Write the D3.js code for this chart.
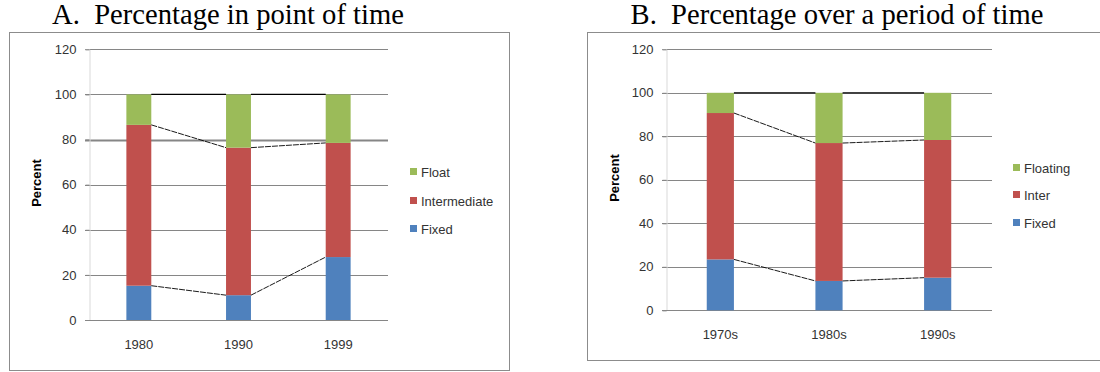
<!DOCTYPE html>
<html>
<head>
<meta charset="utf-8">
<script src="https://cdn.jsdelivr.net/npm/d3@7"></script>
<style>
  body { margin: 0; background: #fff; }
  .tick text { font-family: "Liberation Sans", Arial, sans-serif; font-size: 13px; fill: #333; }
  .legendText { font-family: "Liberation Sans", Arial, sans-serif; font-size: 13px; fill: #333; }
  .titleText { font-family: "Liberation Serif", "Times New Roman", serif; font-size: 28.6px; fill: #000; white-space: pre; }
</style>
</head>
<body>
<svg id="chart" width="1100" height="372"></svg>
<script>
// ...............................
// data

var yTicks = [0, 20, 40, 60, 80, 100, 120];

// panel A
var categoriesA = ["1980", "1990", "1999"];
var fixedA = [15.2, 11.0, 27.9];
var interA = [71.3, 65.4, 50.6];
var floatA = [13.5, 23.6, 21.5];
var legendA = ["Float", "Intermediate", "Fixed"];

// panel B
var categoriesB = ["1970s", "1980s", "1990s"];
var fixedB = [23.4, 13.5, 15.0];
var interB = [67.3, 63.4, 63.3];
var floatB = [9.3, 23.1, 21.7];
var legendB = ["Floating", "Inter", "Fixed"];

var colours = ["#4F81BD", "#C0504D", "#9BBB59"]; // fixed, inter, float
var colour_grid = "#868686";

var svg = d3.select("#chart");

// ...............................
// draw one panel
function fn_panel(cfg) {
  var g = svg.append("g");

  // outer frame
  g.append("rect")
    .attr("x", cfg.frame[0] + 0.5).attr("y", cfg.frame[1] + 0.5)
    .attr("width", cfg.frame[2]).attr("height", cfg.frame[3])
    .attr("fill", "none").attr("stroke", "#8c8c8c").attr("stroke-width", 1);

  // title
  g.append("text").attr("class", "titleText")
    .attr("x", cfg.titleX).attr("y", 24)
    .attr("text-anchor", "middle")
    .text(cfg.title);

  var x = d3.scaleBand().domain(cfg.cats).range([cfg.left, cfg.right]).paddingInner(0.75).paddingOuter(0.375);
  var y = d3.scaleLinear().domain([0, 120]).range([cfg.bottom, cfg.top]);

  // gridlines
  g.append("g").selectAll("line")
    .data(yTicks.filter(function (d) { return d > 0; }))
    .enter().append("line")
      .attr("x1", cfg.left - 4).attr("x2", cfg.right)
      .attr("y1", function (d) { return Math.round(y(d)) + 0.5; })
      .attr("y2", function (d) { return Math.round(y(d)) + 0.5; })
      .attr("stroke", colour_grid)
      .attr("stroke-width", function (d) { return (cfg.thick80 && d === 80) ? 2 : 1; });

  // y axis
  var yAxis = g.append("g")
    .attr("transform", "translate(" + (Math.round(cfg.left) + 0.5) + ",0)")
    .call(d3.axisLeft(y).tickValues(yTicks).tickSize(4).tickPadding(9));
  yAxis.select(".domain").attr("stroke", "#d9d9d9");
  yAxis.selectAll(".tick line").attr("stroke", colour_grid);

  // x axis (baseline)
  var xAxis = g.append("g")
    .attr("transform", "translate(0," + (Math.round(cfg.bottom) + 0.5) + ")")
    .call(d3.axisBottom(x).tickSize(0).tickPadding(19));
  xAxis.select(".domain").attr("stroke", colour_grid).attr("d", "M" + (cfg.left - 4) + ",0H" + cfg.right);

  // y label
  g.append("text")
    .attr("transform", "translate(" + cfg.ylabX + "," + cfg.ylabY + ") rotate(-90)")
    .attr("text-anchor", "middle")
    .style("font-family", "'Liberation Sans', Arial, sans-serif")
    .style("font-size", "13px").style("font-weight", "bold")
    .text("Percent");

  // stacked bars
  var rows = cfg.cats.map(function (c, i) {
    return { cat: c, fixed: cfg.fixed[i], inter: cfg.inter[i], float: cfg.float[i] };
  });
  var keys = ["fixed", "inter", "float"];
  var stacked = d3.stack().keys(keys)(rows);

  g.append("g").selectAll("g")
    .data(stacked)
    .enter().append("g")
      .attr("fill", function (d, i) { return colours[i]; })
    .selectAll("rect")
    .data(function (d) { return d; })
    .enter().append("rect")
      .attr("x", function (d) { return x(d.data.cat); })
      .attr("width", x.bandwidth())
      .attr("y", function (d) { return y(d[1]); })
      .attr("height", function (d) { return y(d[0]) - y(d[1]); });

  // connector lines between bar tops
  stacked.forEach(function (layer) {
    for (var i = 0; i < layer.length - 1; i++) {
      g.append("line")
        .attr("x1", x(layer[i].data.cat) + x.bandwidth())
        .attr("x2", x(layer[i + 1].data.cat))
        .attr("y1", y(layer[i][1]))
        .attr("y2", y(layer[i + 1][1]))
        .attr("stroke", "#000")
        .attr("stroke-width", layer.key === "float" ? 1.3 : 0.9)
        .attr("stroke-dasharray", layer.key === "float" ? null : "6,1");
    }
  });

  // legend
  var leg = g.append("g");
  cfg.legend.forEach(function (name, i) {
    var ly = cfg.legY[i];
    leg.append("rect")
      .attr("x", cfg.legX).attr("y", ly - 4)
      .attr("width", 7).attr("height", 7)
      .attr("fill", colours[2 - i]);
    leg.append("text").attr("class", "legendText")
      .attr("x", cfg.legX + 11).attr("y", ly + 4.5)
      .text(name);
  });
}

fn_panel({
  title: "A.  Percentage in point of time", titleX: 228,
  frame: [9, 32, 500, 338],
  left: 89, right: 388, top: 49.3, bottom: 320,
  cats: categoriesA, fixed: fixedA, inter: interA, float: floatA,
  legend: legendA, legX: 410, legY: [172, 201, 229],
  ylabX: 41, ylabY: 183, thick80: true
});

fn_panel({
  title: "B.  Percentage over a period of time", titleX: 837,
  frame: [587, 32, 520, 328],
  left: 666, right: 992, top: 49.3, bottom: 310.3,
  cats: categoriesB, fixed: fixedB, inter: interB, float: floatB,
  legend: legendB, legX: 1013, legY: [168, 195, 223],
  ylabX: 619, ylabY: 178, thick80: false
});
</script>
</body>
</html>
